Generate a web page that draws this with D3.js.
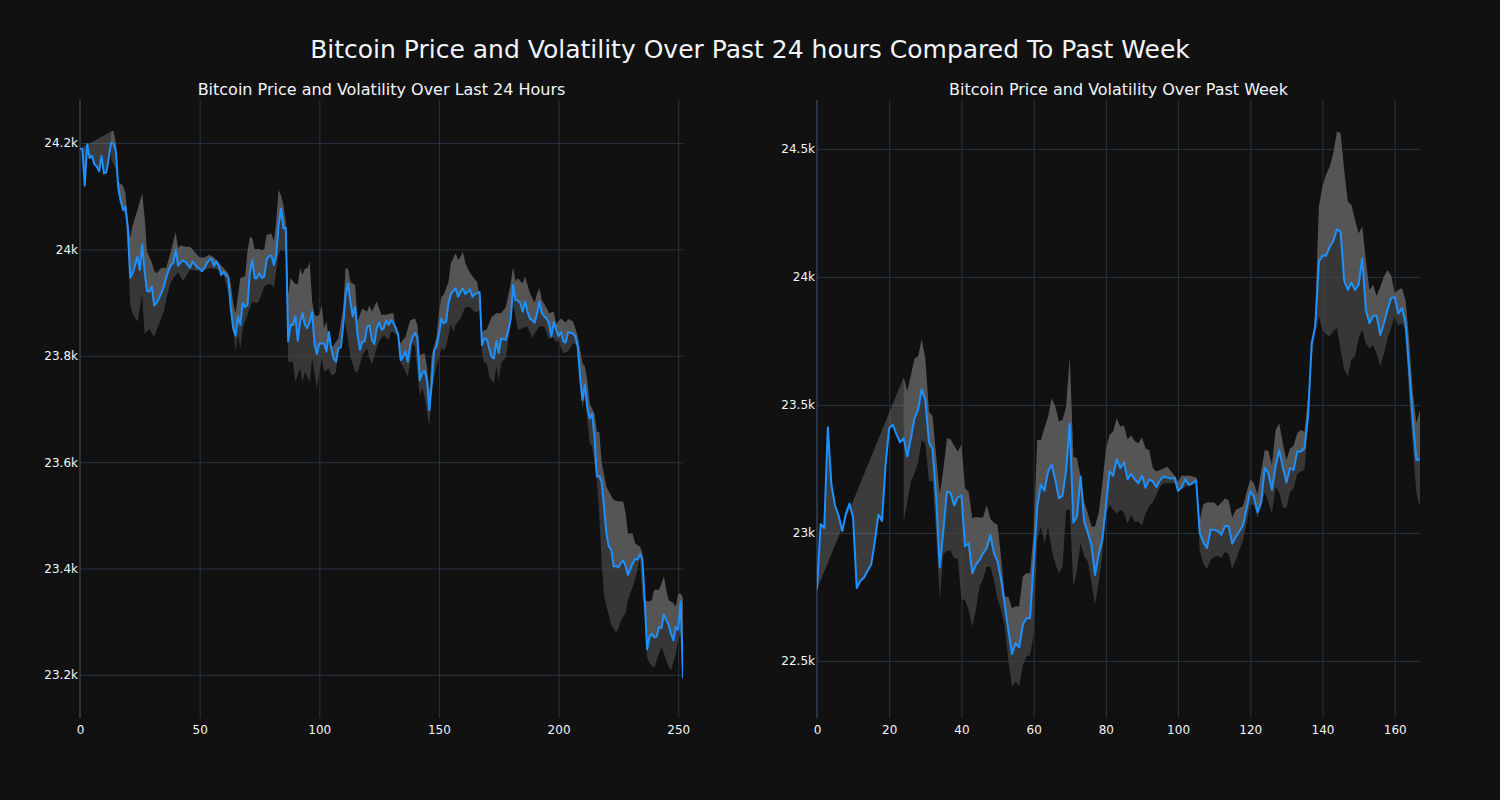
<!DOCTYPE html>
<html>
<head>
<meta charset="utf-8">
<script src="https://cdn.jsdelivr.net/npm/d3@7"></script>
<style>
  html, body { margin: 0; padding: 0; background: #111111; }
  svg { display: block; }
  text { font-family: "DejaVu Sans", sans-serif; fill: #f2f5fa; }
</style>
</head>
<body>
<svg id="chart" width="1500" height="800"></svg>
<script>
// ---------------- DATA (index, value) ----------------
const mainTitle = "Bitcoin Price and Volatility Over Past 24 hours Compared To Past Week";
const dayTitle = "Bitcoin Price and Volatility Over Last 24 Hours";
const weekTitle = "Bitcoin Price and Volatility Over Past Week";

const dayXTicks = [0, 50, 100, 150, 200, 250];
const dayYTicks = [23200, 23400, 23600, 23800, 24000, 24200];
const weekXTicks = [0, 20, 40, 60, 80, 100, 120, 140, 160];
const weekYTicks = [22500, 23000, 23500, 24000, 24500];

const dayPrice = [[0,24190],[1,24188],[2,24120],[3,24198],[4,24172],[5,24176],[6,24160],[7,24156],[8,24147],[9,24176],[10,24143],[11,24145],[12,24171],[13,24201],[14,24199],[15,24185],[16,24115],[17,24092],[18,24074],[19,24080],[20,24040],[21,23947],[22,23955],[23,23970],[24,23986],[25,23961],[26,24010],[27,23958],[28,23922],[29,23921],[30,23930],[31,23895],[32,23899],[33,23908],[34,23918],[35,23930],[36,23947],[37,23960],[38,23971],[39,23974],[40,23999],[41,23969],[42,23976],[43,23979],[44,23977],[45,23971],[46,23966],[47,23977],[48,23972],[49,23966],[50,23964],[51,23959],[52,23965],[53,23974],[54,23980],[55,23983],[56,23969],[57,23978],[58,23968],[59,23952],[60,23958],[61,23952],[62,23947],[63,23889],[64,23852],[65,23838],[66,23874],[67,23858],[68,23899],[69,23892],[70,23896],[71,23958],[72,23980],[73,23946],[74,23946],[75,23955],[76,23946],[77,23949],[78,23980],[79,23988],[80,23988],[81,23971],[82,23989],[83,24046],[84,24077],[85,24040],[86,24041],[87,23827],[88,23858],[89,23858],[90,23874],[91,23828],[92,23864],[93,23880],[94,23858],[95,23852],[96,23864],[97,23883],[98,23823],[99,23803],[100,23823],[101,23823],[102,23823],[103,23808],[104,23845],[105,23814],[106,23795],[107,23789],[108,23814],[109,23816],[110,23858],[111,23914],[112,23936],[113,23902],[114,23874],[115,23892],[116,23839],[117,23811],[118,23827],[119,23827],[120,23855],[121,23857],[122,23830],[123,23822],[124,23852],[125,23863],[126,23849],[127,23852],[128,23867],[129,23858],[130,23867],[131,23862],[132,23852],[133,23839],[134,23792],[135,23798],[136,23808],[137,23789],[138,23820],[139,23836],[140,23843],[141,23833],[142,23754],[143,23767],[144,23772],[145,23754],[146,23698],[147,23748],[148,23811],[149,23817],[150,23840],[151,23870],[152,23861],[153,23864],[154,23899],[155,23916],[156,23922],[157,23927],[158,23911],[159,23920],[160,23927],[161,23916],[162,23920],[163,23925],[164,23911],[165,23916],[166,23918],[167,23920],[168,23820],[169,23833],[170,23831],[171,23814],[172,23798],[173,23795],[174,23828],[175,23805],[176,23833],[177,23831],[178,23830],[179,23848],[180,23869],[181,23933],[182,23905],[183,23904],[184,23899],[185,23883],[186,23902],[187,23883],[188,23870],[189,23867],[190,23862],[191,23880],[192,23902],[193,23880],[194,23874],[195,23870],[196,23861],[197,23836],[198,23864],[199,23849],[200,23837],[201,23845],[202,23827],[203,23825],[204,23845],[205,23843],[206,23842],[207,23836],[208,23817],[209,23760],[210,23717],[211,23745],[212,23704],[213,23682],[214,23691],[215,23648],[216,23573],[217,23574],[218,23563],[219,23516],[220,23466],[221,23441],[222,23436],[223,23404],[224,23405],[225,23402],[226,23410],[227,23415],[228,23405],[229,23388],[230,23399],[231,23410],[232,23418],[233,23417],[234,23427],[235,23419],[236,23341],[237,23248],[238,23272],[239,23277],[240,23271],[241,23272],[242,23290],[243,23288],[244,23314],[245,23303],[246,23294],[247,23277],[248,23265],[249,23290],[250,23285],[251,23338],[252,23194]];

const dayUpper = [[13,24222],[14,24223],[15,24200],[16,24127],[18,24120],[19,24105],[20,24052],[21,24021],[22,24045],[24,24074],[26,24105],[27,24060],[28,23996],[30,23975],[31,23960],[32,23955],[34,23965],[36,23965],[38,23996],[40,24033],[41,24002],[42,24008],[44,24005],[46,24005],[48,23995],[50,23985],[52,23985],[54,23990],[56,23985],[58,23975],[60,23965],[62,23955],[63,23935],[64,23900],[65,23880],[67,23946],[69,23950],[70,23996],[71,24024],[72,24021],[73,24000],[75,24001],[76,23998],[77,24000],[78,24027],[80,24030],[81,24015],[82,24052],[83,24112],[84,24102],[85,24083],[86,24050],[87,23914],[88,23946],[90,23935],[91,23935],[92,23964],[93,23952],[94,23964],[95,23964],[96,23977],[97,23902],[98,23877],[99,23874],[100,23877],[101,23895],[102,23852],[103,23864],[104,23830],[105,23814],[106,23820],[108,23833],[110,23890],[111,23964],[112,23964],[113,23939],[115,23933],[116,23864],[117,23877],[118,23889],[120,23883],[121,23895],[122,23883],[124,23902],[125,23889],[126,23877],[128,23877],[130,23880],[131,23880],[132,23845],[134,23823],[135,23830],[136,23835],[138,23867],[140,23870],[141,23858],[142,23801],[144,23805],[145,23780],[146,23735],[147,23800],[149,23836],[150,23880],[151,23911],[152,23915],[154,23939],[155,23974],[157,23993],[158,23980],[159,23986],[160,23996],[161,23975],[162,23964],[164,23949],[166,23939],[167,23905],[168,23845],[169,23848],[170,23850],[172,23873],[174,23880],[176,23880],[178,23892],[180,23936],[181,23967],[182,23940],[183,23946],[185,23936],[186,23949],[187,23933],[188,23918],[190,23900],[191,23917],[192,23927],[193,23905],[195,23890],[196,23880],[198,23883],[199,23860],[201,23870],[203,23862],[204,23869],[206,23865],[207,23852],[208,23837],[210,23786],[211,23780],[212,23754],[213,23710],[215,23692],[216,23657],[217,23657],[218,23600],[220,23554],[221,23545],[223,23529],[225,23526],[227,23526],[228,23504],[229,23466],[231,23466],[232,23447],[234,23441],[235,23430],[236,23340],[238,23338],[239,23341],[240,23360],[242,23360],[243,23372],[244,23385],[245,23360],[246,23341],[248,23335],[249,23328],[250,23353],[251,23353],[252,23345]];

const dayLower = [[13,24170],[14,24160],[15,24150],[16,24110],[18,24071],[19,24065],[20,24000],[21,23895],[22,23880],[24,23864],[25,23890],[26,23915],[27,23842],[29,23850],[31,23836],[32,23848],[35,23883],[37,23924],[38,23939],[40,23952],[41,23957],[43,23940],[46,23962],[49,23960],[52,23962],[55,23965],[58,23962],[60,23952],[62,23920],[63,23905],[64,23852],[65,23808],[66,23840],[67,23814],[68,23850],[69,23865],[71,23890],[72,23902],[74,23899],[75,23905],[77,23930],[78,23934],[80,23934],[81,23928],[82,23960],[83,23990],[84,24000],[86,23995],[87,23789],[89,23789],[90,23751],[92,23776],[93,23751],[94,23770],[96,23751],[97,23795],[99,23739],[100,23770],[101,23795],[102,23770],[104,23776],[105,23764],[106,23764],[107,23770],[108,23814],[109,23839],[110,23880],[111,23858],[112,23830],[113,23798],[115,23770],[116,23770],[117,23783],[118,23801],[120,23814],[121,23795],[122,23783],[124,23814],[125,23827],[127,23839],[128,23833],[129,23830],[130,23845],[131,23845],[133,23836],[134,23786],[135,23780],[137,23761],[138,23786],[139,23823],[140,23817],[142,23726],[143,23739],[144,23723],[146,23667],[147,23736],[149,23780],[151,23814],[152,23811],[153,23817],[155,23860],[156,23845],[157,23858],[159,23870],[161,23892],[163,23892],[165,23882],[167,23885],[168,23805],[169,23786],[170,23786],[171,23761],[173,23748],[174,23780],[175,23755],[176,23786],[178,23798],[179,23830],[180,23860],[181,23898],[183,23849],[185,23852],[187,23855],[189,23833],[190,23842],[192,23855],[194,23855],[196,23830],[197,23840],[199,23825],[200,23830],[201,23815],[202,23805],[204,23808],[206,23823],[208,23820],[209,23736],[210,23700],[211,23723],[212,23680],[213,23635],[214,23630],[216,23566],[217,23503],[218,23410],[219,23350],[220,23330],[222,23295],[224,23280],[225,23287],[226,23303],[228,23316],[229,23341],[231,23366],[233,23397],[234,23420],[235,23350],[236,23310],[237,23234],[238,23222],[240,23213],[241,23228],[243,23253],[245,23228],[246,23216],[247,23209],[249,23240],[250,23266],[251,23280],[252,23210]];

const weekPrice = [[0,22780],[1,23035],[2,23019],[3,23413],[4,23187],[5,23107],[6,23067],[7,23007],[8,23075],[9,23115],[10,23059],[11,22785],[12,22812],[13,22825],[14,22852],[15,22876],[16,22964],[17,23072],[18,23046],[19,23266],[20,23410],[21,23422],[22,23386],[23,23354],[24,23370],[25,23298],[26,23370],[27,23449],[28,23481],[29,23561],[30,23518],[31,23354],[32,23327],[33,23139],[34,22865],[35,23011],[36,23163],[37,23155],[38,23107],[39,23139],[40,23147],[41,22948],[42,22960],[43,22842],[44,22875],[45,22894],[46,22920],[47,22940],[48,22992],[49,22921],[50,22888],[51,22816],[52,22719],[53,22621],[54,22527],[55,22569],[56,22553],[57,22641],[58,22667],[59,22667],[60,22880],[61,23103],[62,23188],[63,23165],[64,23240],[65,23266],[66,23207],[67,23135],[68,23145],[69,23246],[70,23426],[71,23040],[72,23064],[73,23220],[74,23044],[75,23001],[76,22953],[77,22836],[78,22914],[79,22973],[80,23103],[81,23240],[82,23223],[83,23288],[84,23253],[85,23276],[86,23209],[87,23231],[88,23209],[89,23194],[90,23224],[91,23176],[92,23209],[93,23201],[94,23179],[95,23206],[96,23221],[97,23216],[98,23212],[99,23216],[100,23164],[101,23179],[102,23209],[103,23187],[104,23194],[105,23206],[106,23000],[107,22963],[108,22940],[109,23012],[110,23012],[111,23007],[112,22993],[113,23027],[114,23027],[115,22958],[116,22985],[117,23007],[118,23030],[119,23097],[120,23164],[121,23142],[122,23082],[123,23119],[124,23254],[125,23233],[126,23168],[127,23259],[128,23324],[129,23259],[130,23197],[131,23253],[132,23246],[133,23318],[134,23318],[135,23331],[136,23454],[137,23741],[138,23806],[139,24060],[140,24083],[141,24083],[142,24118],[143,24140],[144,24186],[145,24177],[146,23985],[147,23949],[148,23978],[149,23949],[150,23969],[151,24073],[152,23871],[153,23819],[154,23848],[155,23848],[156,23773],[157,23819],[158,23871],[159,23917],[160,23921],[161,23856],[162,23878],[163,23819],[164,23637],[165,23441],[166,23285],[167,23288]];

const weekUpper = [[24,23608],[25,23553],[26,23616],[27,23680],[28,23690],[29,23757],[30,23680],[31,23473],[32,23457],[33,23300],[34,23150],[35,23250],[36,23370],[37,23365],[38,23340],[39,23317],[40,23345],[41,23174],[42,23160],[43,23057],[44,23062],[45,23060],[46,23060],[47,23109],[48,23055],[49,23040],[50,23031],[51,22900],[52,22751],[53,22751],[54,22706],[55,22713],[56,22713],[57,22830],[58,22842],[59,22842],[60,23000],[61,23363],[62,23363],[63,23410],[64,23454],[65,23526],[66,23495],[67,23435],[68,23441],[69,23493],[70,23689],[71,23298],[72,23292],[73,23220],[74,23120],[75,23077],[76,23025],[77,23025],[78,23077],[79,23190],[80,23324],[81,23383],[82,23395],[83,23448],[84,23415],[85,23420],[86,23366],[87,23380],[88,23358],[89,23350],[90,23373],[91,23330],[92,23323],[93,23254],[94,23240],[95,23246],[96,23252],[97,23257],[98,23242],[99,23224],[100,23200],[101,23224],[102,23222],[103,23224],[104,23220],[105,23216],[106,23050],[107,23112],[108,23119],[109,23119],[110,23119],[111,23104],[112,23119],[113,23134],[114,23127],[115,23060],[116,23090],[117,23097],[118,23105],[119,23160],[120,23209],[121,23195],[122,23150],[123,23239],[124,23324],[125,23320],[126,23265],[127,23400],[128,23428],[129,23350],[130,23285],[131,23330],[132,23340],[133,23389],[134,23402],[135,23395],[136,23530],[137,23700],[138,23860],[139,24275],[140,24353],[141,24400],[142,24430],[143,24483],[144,24568],[145,24561],[146,24418],[147,24294],[148,24281],[149,24223],[150,24170],[151,24197],[152,24065],[153,23949],[154,23969],[155,23925],[156,23962],[157,24001],[158,24027],[159,24005],[160,23936],[161,23950],[162,23956],[163,23910],[164,23750],[165,23550],[166,23428],[167,23481]];

const weekLower = [[24,23043],[25,23120],[26,23200],[27,23234],[28,23274],[29,23362],[30,23350],[31,23203],[32,23200],[33,23000],[34,22741],[35,22916],[36,22930],[37,22930],[38,22900],[39,22900],[40,22740],[41,22738],[42,22700],[43,22634],[44,22700],[45,22790],[46,22820],[47,22868],[48,22868],[49,22815],[50,22740],[51,22700],[52,22634],[53,22500],[54,22400],[55,22420],[56,22400],[57,22484],[58,22517],[59,22523],[60,22600],[61,22975],[62,23025],[63,22960],[64,23025],[65,22934],[66,22880],[67,22842],[68,22868],[69,23090],[70,23090],[71,22790],[72,22855],[73,22960],[74,22908],[75,22888],[76,22805],[77,22719],[78,22805],[79,22908],[80,23070],[81,23110],[82,23090],[83,23075],[84,23090],[85,23080],[86,23037],[87,23070],[88,23045],[89,23045],[90,23030],[91,23075],[92,23105],[93,23120],[94,23149],[95,23180],[96,23194],[97,23194],[98,23194],[99,23194],[100,23172],[101,23170],[102,23180],[103,23187],[104,23194],[105,23200],[106,22930],[107,22880],[108,22858],[109,22895],[110,22905],[111,22911],[112,22903],[113,22925],[114,22918],[115,22858],[116,22895],[117,22933],[118,22970],[119,23040],[120,23110],[121,23110],[122,23060],[123,23100],[124,23160],[125,23120],[126,23077],[127,23180],[128,23160],[129,23100],[130,23096],[131,23160],[132,23175],[133,23230],[134,23240],[135,23245],[136,23420],[137,23676],[138,23790],[139,23845],[140,23793],[141,23775],[142,23767],[143,23790],[144,23799],[145,23715],[146,23640],[147,23611],[148,23676],[149,23689],[150,23760],[151,23793],[152,23740],[153,23721],[154,23734],[155,23700],[156,23650],[157,23700],[158,23760],[159,23800],[160,23845],[161,23810],[162,23820],[163,23790],[164,23530],[165,23330],[166,23155],[167,23103]];

// ---------------- STYLE / LAYOUT ----------------
const BG = "#111111", GRID = "#283442", LINE = "#1e90ff";
const FILL_BAND = "rgba(68,68,68,0.75)";      // between lower and upper bound
const FILL_TOP = "rgba(143,143,143,0.34)";    // between price and upper bound
const svg = d3.select("#chart");
svg.append("rect").attr("width", 1500).attr("height", 800).attr("fill", BG);

function fitText(sel, target) {
  const w = sel.node().getComputedTextLength();
  const fs = parseFloat(sel.attr("font-size"));
  sel.attr("font-size", (fs * target / w).toFixed(2));
}

function panel(cfg) {
  const x = d3.scaleLinear().domain(cfg.xDomain).range([cfg.left, cfg.right]);
  const y = d3.scaleLinear().domain(cfg.yDomain).range([cfg.bottom, cfg.top]);
  const g = svg.append("g");

  const yAxis = d3.axisLeft(y).tickValues(cfg.yTicks).tickFormat(d3.format("~s"))
    .tickSize(-(cfg.right - cfg.left)).tickPadding(2);
  const ya = g.append("g").attr("transform", `translate(${cfg.left},0)`).call(yAxis);
  ya.select(".domain").remove();
  ya.selectAll("line").attr("stroke", GRID).attr("stroke-width", 1);
  ya.selectAll("text").attr("font-size", 12).attr("fill", "#f2f5fa")
    .style("font-family", "DejaVu Sans");

  const xAxis = d3.axisBottom(x).tickValues(cfg.xTicks).tickFormat(d3.format("d"))
    .tickSize(-(cfg.bottom - cfg.top)).tickPadding(7);
  const xa = g.append("g").attr("transform", `translate(0,${cfg.bottom})`).call(xAxis);
  xa.select(".domain").remove();
  xa.selectAll("line").attr("stroke", GRID).attr("stroke-width", 1);
  xa.selectAll("text").attr("font-size", 12).attr("fill", "#f2f5fa")
    .style("font-family", "DejaVu Sans");

  g.append("line").attr("x1", x(0)).attr("x2", x(0)).attr("y1", cfg.top).attr("y2", cfg.bottom)
    .attr("stroke", GRID).attr("stroke-width", 2);

  const clipId = "clip" + cfg.id;
  svg.append("clipPath").attr("id", clipId).append("rect")
    .attr("x", cfg.left).attr("y", cfg.top).attr("width", cfg.right - cfg.left).attr("height", cfg.bottom - cfg.top);
  const plot = g.append("g").attr("clip-path", `url(#${clipId})`);

  const pt = d => [x(d[0]), y(d[1])];
  // band between upper and lower bound
  const bandPoly = cfg.upper.map(pt).concat(cfg.lower.slice().reverse().map(pt));
  // overlay between price and upper bound (closing back to the first price point)
  const topPoly = cfg.price.map(pt).concat(cfg.upper.slice().reverse().map(pt));
  plot.append("path").attr("d", "M" + bandPoly.join("L") + "Z").attr("fill", FILL_BAND).attr("stroke", "none");
  plot.append("path").attr("d", "M" + topPoly.join("L") + "Z").attr("fill", FILL_TOP).attr("stroke", "none");

  const line = d3.line().x(d => x(d[0])).y(d => y(d[1]));
  plot.append("path").datum(cfg.price).attr("d", line).attr("fill", "none")
    .attr("stroke", LINE).attr("stroke-width", 2).attr("stroke-linejoin", "round");

  const t = svg.append("text").attr("x", (cfg.left + cfg.right) / 2).attr("y", 95)
    .attr("text-anchor", "middle").attr("font-size", 16).text(cfg.title);
  fitText(t, cfg.titleWidth);
}

panel({ id: "L", left: 80, right: 683, top: 100, bottom: 718,
  xDomain: [0, 252], yDomain: [23119, 24281], xTicks: dayXTicks, yTicks: dayYTicks,
  price: dayPrice, upper: dayUpper, lower: dayLower, title: dayTitle, titleWidth: 368 });
panel({ id: "R", left: 817, right: 1420, top: 100, bottom: 718,
  xDomain: [0, 167], yDomain: [22277, 24691], xTicks: weekXTicks, yTicks: weekYTicks,
  price: weekPrice, upper: weekUpper, lower: weekLower, title: weekTitle, titleWidth: 339 });

const mt = svg.append("text").attr("x", 750).attr("y", 58).attr("text-anchor", "middle")
  .attr("font-size", 22).text(mainTitle);
fitText(mt, 880);
</script>
</body>
</html>
